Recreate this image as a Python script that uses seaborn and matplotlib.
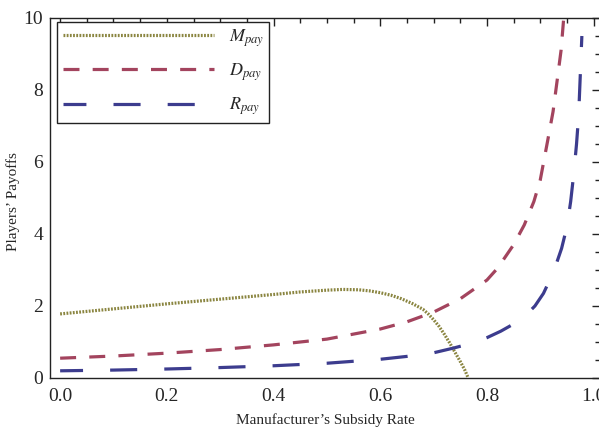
import matplotlib
matplotlib.use("Agg")
import matplotlib.pyplot as plt
import seaborn as sns
from matplotlib.ticker import MultipleLocator

# ---- data ----
m_x = [0.0, 0.1, 0.2, 0.3, 0.4, 0.45, 0.5, 0.53, 0.56, 0.58, 0.6, 0.62, 0.64, 0.66, 0.68,
       0.69, 0.70, 0.71, 0.72, 0.73, 0.74, 0.75, 0.758, 0.765]
m_y = [1.78, 1.92, 2.06, 2.19, 2.32, 2.39, 2.44, 2.46, 2.45, 2.42, 2.37, 2.30, 2.20, 2.07, 1.91,
       1.78, 1.62, 1.44, 1.22, 0.98, 0.72, 0.46, 0.24, 0.0]

d_x = [0.0, 0.1, 0.2, 0.3, 0.4, 0.5, 0.6, 0.65, 0.7, 0.75, 0.8, 0.82, 0.85, 0.87, 0.888, 0.9,
       0.914, 0.924, 0.932, 0.939, 0.944, 0.952]
d_y = [0.55, 0.61, 0.69, 0.79, 0.92, 1.08, 1.36, 1.56, 1.83, 2.2, 2.72, 3.05, 3.7, 4.25, 4.9, 5.5,
       6.6, 7.4, 8.3, 9.1, 10.0, 11.5]

r_x = [0.0, 0.1, 0.2, 0.3, 0.4, 0.5, 0.6, 0.65, 0.7, 0.737, 0.76, 0.78, 0.8, 0.826, 0.85, 0.87,
       0.89, 0.906, 0.925, 0.94, 0.95, 0.957, 0.963, 0.968, 0.972, 0.978]
r_y = [0.2, 0.22, 0.25, 0.29, 0.34, 0.41, 0.52, 0.6, 0.7, 0.83, 0.92, 1.01, 1.12, 1.3, 1.5, 1.7,
       2.0, 2.35, 2.95, 3.6, 4.2, 4.9, 5.7, 6.5, 7.3, 9.5]

labels = [r"$M_{pay}$", r"$D_{pay}$", r"$R_{pay}$"]
x_label = "Manufacturer\u2019s Subsidy Rate"
y_label = "Players\u2019 Payoffs"

# ---- style ----
sns.set_style("white")
plt.rcParams["font.family"] = ["Liberation Serif", "DejaVu Serif"]
plt.rcParams["mathtext.fontset"] = "stix"
plt.rcParams["lines.scale_dashes"] = False

fig = plt.figure(figsize=(5.99, 4.34), dpi=100)
ax = fig.add_axes([50 / 599, (434 - 378) / 434, 550 / 599, 360 / 434])

c_m = "#8a8540"
c_d = "#a3445e"
c_r = "#3c3c8e"

sns.lineplot(x=m_x, y=m_y, ax=ax, color=c_m, linewidth=2.3,
             linestyle=(0, (1.3, 1.0)), sort=False, label=labels[0])
sns.lineplot(x=d_x, y=d_y, ax=ax, color=c_d, linewidth=2.3,
             linestyle=(0, (11.5, 9.5)), sort=False, label=labels[1])
sns.lineplot(x=r_x, y=r_y, ax=ax, color=c_r, linewidth=2.3,
             linestyle=(3, (19.5, 19.5)), sort=False, label=labels[2])

ax.set_xlim(-0.019, 1.012)
ax.set_ylim(0, 10)

ax.xaxis.set_minor_locator(MultipleLocator(0.05))
ax.yaxis.set_minor_locator(MultipleLocator(0.5))
ax.set_xticks([0.0, 0.2, 0.4, 0.6, 0.8, 1.0])
ax.set_xticklabels(["0.0", "0.2", "0.4", "0.6", "0.8", "1.0"])
ax.set_yticks([0, 2, 4, 6, 8, 10])
ax.set_yticklabels(["0", "2", "4", "6", "8", "10"])

ax.tick_params(which="both", direction="in", top=True, right=True,
               color="#222222", width=1.0)
ax.tick_params(which="major", length=6, labelsize=14, pad=5)
ax.tick_params(which="minor", length=3.5)
ax.tick_params(axis="x", which="major", pad=7)

for s in ax.spines.values():
    s.set_color("#222222")
    s.set_linewidth(1.0)

ax.set_xlabel(x_label, fontsize=11, labelpad=6)
ax.set_ylabel(y_label, fontsize=11)
ax.yaxis.set_label_coords(-0.055, 0.49)

leg = ax.legend(loc="upper left", bbox_to_anchor=(0.013, 0.989),
                borderaxespad=0, fontsize=13, handlelength=8.4,
                handletextpad=0.8, labelspacing=0.7, borderpad=0.3,
                fancybox=False, framealpha=1, edgecolor="#222222")
leg.get_frame().set_linewidth(1.0)

fig.savefig("out.png", dpi=100)
